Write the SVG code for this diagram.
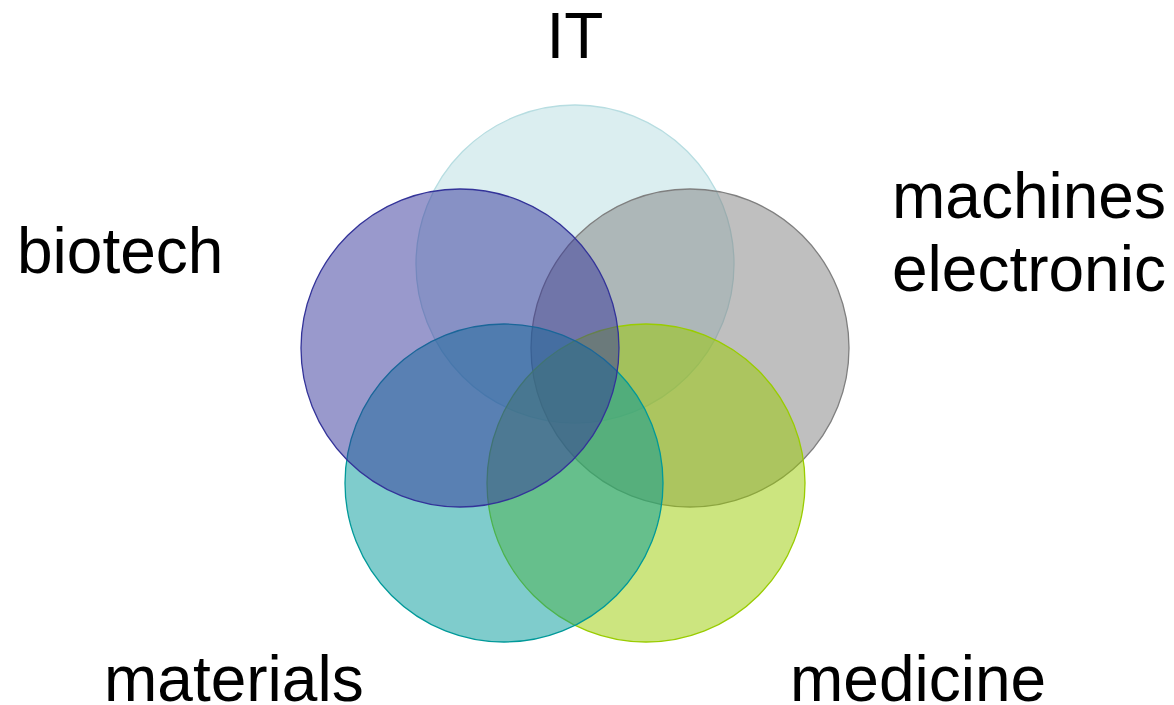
<svg xmlns="http://www.w3.org/2000/svg" width="1174" height="705" viewBox="0 0 1174 705">
<style>
.c{stroke-width:1.3}
.t{font-family:"Liberation Sans",Arial,sans-serif;font-size:64px;fill:#000}
</style>
<rect width="1174" height="705" fill="#fff"/>
<g id="node-it"><circle class="c" cx="575" cy="264" r="159" fill="#b7dde1" fill-opacity="0.5" stroke="#b7dde1"/></g>
<g id="node-machines"><circle class="c" cx="690" cy="348" r="159" fill="#7f7f7f" fill-opacity="0.5" stroke="#7f7f7f"/></g>
<g id="node-medicine"><circle class="c" cx="646" cy="483" r="159" fill="#99cc00" fill-opacity="0.5" stroke="#99cc00"/></g>
<g id="node-materials"><circle class="c" cx="504" cy="483" r="159" fill="#009999" fill-opacity="0.5" stroke="#009999"/></g>
<g id="node-biotech"><circle class="c" cx="460" cy="348" r="159" fill="#333399" fill-opacity="0.5" stroke="#333399"/></g>
<g id="connectors"></g>
<g id="labels">
<text class="t" x="575" y="58" text-anchor="middle">IT</text>
<text class="t" x="17" y="273">biotech</text>
<text class="t" x="892" y="218">machines</text>
<text class="t" x="892" y="291">electronic</text>
<text class="t" x="104" y="701">materials</text>
<text class="t" x="790" y="701">medicine</text>
</g>
</svg>
